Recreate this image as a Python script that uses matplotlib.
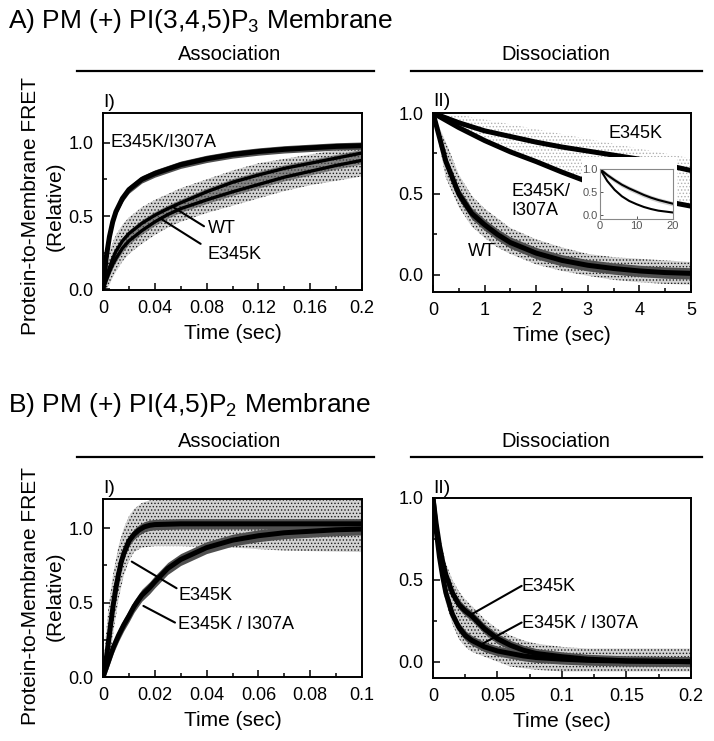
import matplotlib
matplotlib.use('Agg')
import matplotlib.pyplot as plt
from matplotlib.ticker import FixedLocator

plt.rcParams['font.family'] = ['Liberation Sans', 'DejaVu Sans']
plt.rcParams['mathtext.fontset'] = 'custom'
plt.rcParams['mathtext.rm'] = 'Liberation Sans'
plt.rcParams['mathtext.it'] = 'Liberation Sans:italic'
plt.rcParams['mathtext.bf'] = 'Liberation Sans:bold'
plt.rcParams['hatch.linewidth'] = 0.6

# ---------------- data ----------------
# A-I association, PI(3,4,5)P3
tA1 = [0, .0025, .005, .0075, .01, .015, .02, .03, .04, .05, .06, .08, .10, .12, .14, .16, .18, .20]
a1_mut2 = [0, .22, .36, .46, .53, .62, .68, .75, .79, .82, .85, .89, .92, .94, .955, .965, .975, .98]
a1_wt = [0, .08, .15, .21, .26, .33, .38, .45, .505, .55, .59, .665, .73, .78, .825, .86, .895, .93]
a1_e345k = [0, .06, .12, .17, .21, .28, .33, .40, .46, .51, .55, .61, .665, .715, .765, .805, .845, .88]
a1_cloud_lo = [0, 0, .03, .08, .12, .19, .24, .31, .37, .42, .46, .52, .57, .62, .67, .71, .74, .77]
a1_cloud_hi = [0, .18, .26, .32, .37, .44, .49, .56, .61, .65, .69, .75, .81, .86, .89, .92, .95, .99]

# A-II dissociation, PI(3,4,5)P3
tA2 = [0, .25, .5, .75, 1, 1.25, 1.5, 2, 2.5, 3, 3.5, 4, 4.5, 5]
a2_wt = [1.0, .70, .50, .38, .31, .25, .20, .135, .09, .06, .04, .025, .015, .01]
a2_wt_lo = [1.0, .60, .42, .30, .23, .17, .13, .065, .025, -.005, -.03, -.045, -.055, -.06]
a2_wt_hi = [1.0, .82, .62, .49, .41, .35, .29, .22, .17, .13, .11, .10, .09, .08]
tA2b = [0, .5, 1, 1.5, 2, 2.5, 3, 3.5, 4, 4.5, 5]
a2_e345k = [1.0, .94, .89, .855, .82, .79, .765, .74, .715, .68, .645]
a2_mut2 = [1.0, .91, .83, .76, .70, .635, .575, .53, .49, .455, .425]
a2_sparse_hi = [1.0, .99, .96, .93, .90, .87, .84, .81, .78, .75, .72]

# A-II inset (0-20 s)
tIn = [0, 2, 4, 6, 8, 10, 12, 14, 16, 18, 20]
in_e345k = [1.0, .87, .76, .66, .58, .51, .44, .38, .33, .29, .25]
in_mut2 = [1.0, .74, .55, .41, .31, .24, .18, .135, .10, .08, .06]

# B-I association, PI(4,5)P2
tB1a = [0, .001, .002, .003, .004, .005, .006, .007, .008, .010, .012, .014, .016, .018, .02, .03, .05, .1]
b1_e345k = [0, .09, .22, .36, .49, .60, .69, .77, .83, .915, .96, .99, 1.01, 1.02, 1.025, 1.03, 1.03, 1.03]
tB1b = [0, .002, .004, .006, .008, .010, .012, .015, .018, .02, .025, .03, .035, .04, .05, .06, .07, .08, .09, .1]
b1_mut2 = [0, .10, .20, .28, .35, .41, .475, .55, .60, .64, .73, .79, .83, .87, .92, .95, .97, .98, .99, .995]
tB1c = [0, .002, .004, .006, .008, .010, .012, .015, .02, .03, .05, .07, .1]
b1_cloud_lo = [0, .05, .30, .52, .68, .78, .84, .87, .88, .88, .87, .85, .84]
b1_cloud_hi = [.05, .45, .70, .88, 1.0, 1.08, 1.13, 1.17, 1.2, 1.2, 1.2, 1.2, 1.2]

# B-II dissociation, PI(4,5)P2
tB2 = [0, .0025, .005, .0075, .01, .015, .02, .025, .03, .04, .05, .06, .07, .08, .1, .12, .15, .2]
b2_e345k = [1.0, .84, .71, .61, .53, .42, .35, .31, .28, .20, .14, .10, .07, .05, .03, .015, .005, 0]
b2_mut2 = [1.0, .80, .64, .52, .42, .29, .21, .16, .13, .09, .065, .05, .035, .025, .015, .008, .003, 0]
b2_cloud_lo = [1.0, .75, .58, .46, .36, .23, .14, .09, .06, .03, .0, -.03, -.04, -.05, -.06, -.06, -.06, -.06]
b2_cloud_hi = [1.0, .90, .78, .68, .60, .50, .43, .38, .34, .26, .20, .16, .13, .11, .09, .08, .08, .08]

# tick labels
xt_a1 = [0, .04, .08, .12, .16, .2]
xl_a1 = ['0', '0.04', '0.08', '0.12', '0.16', '0.2']
xt_a2 = [0, 1, 2, 3, 4, 5]
xl_a2 = ['0', '1', '2', '3', '4', '5']
xt_b1 = [0, .02, .04, .06, .08, .1]
xl_b1 = ['0', '0.02', '0.04', '0.06', '0.08', '0.1']
xt_b2 = [0, .05, .1, .15, .2]
xl_b2 = ['0', '0.05', '0.1', '0.15', '0.2']
yt = [0, .5, 1.0]
yl = ['0.0', '0.5', '1.0']

# ---------------- style ----------------
W, H = 714, 741
fig = plt.figure(figsize=(W / 100, H / 100), dpi=100)

def px(x0, y0, x1, y1):
    return [x0 / W, 1 - y1 / H, (x1 - x0) / W, (y1 - y0) / H]

DENSE = '#505050'
LW_FIT = 3.6

def cloud(ax, t, lo, hi, face='#d2d2d2', color='#1e1e1e', z=1):
    ax.fill_between(t, lo, hi, facecolor=face, edgecolor=color, hatch='.....', lw=0, zorder=z)

def style(ax, xlim, ylim, xt, xl, xminor):
    ax.set_xlim(*xlim)
    ax.set_ylim(*ylim)
    ax.set_xticks(xt)
    ax.set_xticklabels(xl)
    ax.set_yticks(yt)
    ax.set_yticklabels(yl)
    ax.xaxis.set_minor_locator(FixedLocator(xminor))
    ax.yaxis.set_minor_locator(FixedLocator([.25, .75]))
    ax.tick_params(which='both', direction='in', top=False, right=False,
                   labelsize=13, width=1.1, colors='black')
    ax.tick_params(which='major', length=5, pad=7)
    ax.tick_params(which='minor', length=3)
    for s in ax.spines.values():
        s.set_linewidth(1.4)
    ax.set_xlabel('Time (sec)', fontsize=15, labelpad=5)

def band(ax, t, y, w, color, z=1.5):
    ax.fill_between(t, [v - w for v in y], [v + w for v in y], color=color, lw=0, zorder=z)

def note(ax, xy, xytext):
    ax.annotate('', xy=xy, xytext=xytext,
                arrowprops=dict(arrowstyle='-', lw=1.5, color='black', shrinkA=0, shrinkB=0), zorder=5)

# ---- A-I ----
ax1 = fig.add_axes(px(103, 113, 362, 290))
cloud(ax1, tA1, a1_cloud_lo, a1_cloud_hi)
ax1.fill_between(tA1, [v - .025 for v in a1_e345k], [v + .025 for v in a1_wt], color=DENSE, lw=0, zorder=1.5, alpha=0.6)
band(ax1, tA1, a1_mut2, .025, DENSE)
ax1.plot(tA1, a1_mut2, color='black', lw=LW_FIT, zorder=3)
ax1.plot(tA1, a1_wt, color='black', lw=2.4, zorder=3)
ax1.plot(tA1, a1_e345k, color='black', lw=2.4, zorder=3)
style(ax1, (0, .2), (-.005, 1.203), xt_a1, xl_a1, [.02, .06, .10, .14, .18])
ax1.text(.0055, 1.0, 'E345K/I307A', fontsize=13, va='center', ha='left', zorder=6)
ax1.text(.081, .416, 'WT', fontsize=13, va='center', ha='left', zorder=6)
ax1.text(.081, .24, 'E345K', fontsize=13, va='center', ha='left', zorder=6)
note(ax1, (.0543, .56), (.078, .43))
note(ax1, (.044, .485), (.0754, .31))

# ---- A-II ----
ax2 = fig.add_axes(px(433, 113, 691, 292))
cloud(ax2, tA2b, a2_mut2, a2_sparse_hi, face='white', color='#b0b0b0')
cloud(ax2, tA2, a2_wt_lo, a2_wt_hi, z=1.2)
band(ax2, tA2, a2_wt, .035, DENSE)
ax2.plot(tA2, a2_wt, color='black', lw=LW_FIT, zorder=3)
ax2.plot(tA2b, a2_e345k, color='black', lw=LW_FIT, zorder=3)
ax2.plot(tA2b, a2_mut2, color='black', lw=LW_FIT, zorder=3)
style(ax2, (0, 5), (-.105, 1.0), xt_a2, xl_a2, [.5, 1.5, 2.5, 3.5, 4.5])
ax2.text(3.40, .875, 'E345K', fontsize=13, va='center', ha='left', zorder=6)
ax2.text(1.525, .457, 'E345K/\nI307A', fontsize=13, va='center', ha='left', linespacing=1.1, zorder=6)
ax2.text(.684, .146, 'WT', fontsize=13, va='center', ha='left', zorder=6)

# white area behind inset
bg = fig.add_axes(px(582, 157, 677, 232))
bg.set_facecolor('white')
bg.set_xticks([])
bg.set_yticks([])
for s in bg.spines.values():
    s.set_visible(False)

axi = fig.add_axes(px(600, 169, 673, 219))
axi.fill_between(tIn, [v - .05 for v in in_e345k], [v + .05 for v in in_e345k], color='#cfcfcf', lw=0)
axi.plot(tIn, in_e345k, color='black', lw=1.5)
axi.plot(tIn, in_mut2, color='black', lw=1.5)
axi.set_xlim(0, 20)
axi.set_ylim(-.08, 1.0)
axi.set_xticks([0, 10, 20])
axi.set_xticklabels(['0', '10', '20'])
axi.set_yticks(yt)
axi.set_yticklabels(yl)
axi.tick_params(direction='in', length=2.5, width=0.7, labelsize=8, pad=1.5,
                colors='#555555', top=False, right=False)
for s in axi.spines.values():
    s.set_linewidth(0.8)
    s.set_edgecolor('#888888')

# ---- B-I ----
ax3 = fig.add_axes(px(103, 499, 362, 677))
cloud(ax3, tB1c, b1_cloud_lo, b1_cloud_hi)
band(ax3, tB1b, b1_mut2, .04, DENSE)
band(ax3, tB1a, b1_e345k, .035, DENSE)
ax3.plot(tB1a, b1_e345k, color='black', lw=LW_FIT, zorder=3)
ax3.plot(tB1b, b1_mut2, color='black', lw=LW_FIT, zorder=3)
style(ax3, (0, .1), (0, 1.197), xt_b1, xl_b1, [.01, .03, .05, .07, .09])
ax3.text(.0291, .55, 'E345K', fontsize=13, va='center', ha='left', zorder=6)
ax3.text(.0291, .355, 'E345K / I307A', fontsize=13, va='center', ha='left', zorder=6)
note(ax3, (.0111, .776), (.0284, .597))
note(ax3, (.0156, .478), (.0278, .366))

# ---- B-II ----
ax4 = fig.add_axes(px(433, 498, 691, 678))
cloud(ax4, tB2, b2_cloud_lo, b2_cloud_hi)
band(ax4, tB2, b2_e345k, .03, DENSE)
band(ax4, tB2, b2_mut2, .03, DENSE)
ax4.plot(tB2, b2_e345k, color='black', lw=LW_FIT, zorder=3)
ax4.plot(tB2, b2_mut2, color='black', lw=LW_FIT, zorder=3)
style(ax4, (0, .2), (-.1, 1.0), xt_b2, xl_b2, [.025, .075, .125, .175])
ax4.text(.0687, .459, 'E345K', fontsize=13, va='center', ha='left', zorder=6)
ax4.text(.0687, .235, 'E345K / I307A', fontsize=13, va='center', ha='left', zorder=6)
note(ax4, (.0282, .282), (.0687, .463))
note(ax4, (.038, .108), (.0687, .239))

# ---- y labels ----
for yc in (206, 596):
    fig.text(43 / W, 1 - yc / H, 'Protein-to-Membrane FRET\n(Relative)', rotation=90,
             ha='center', va='center', fontsize=15, linespacing=1.35)

# ---- panel labels ----
for (x, y, s) in [(103, 107, 'I)'), (433, 106, 'II)'), (103, 493, 'I)'), (433, 493, 'II)')]:
    fig.text(x / W, 1 - y / H, s, fontsize=14, ha='left', va='baseline')

# ---- section titles and headers ----
fig.text(8 / W, 1 - 28 / H, 'A) PM (+) PI(3,4,5)P$_3$ Membrane', fontsize=19, ha='left', va='baseline')
fig.text(8 / W, 1 - 412 / H, 'B) PM (+) PI(4,5)P$_2$ Membrane', fontsize=19, ha='left', va='baseline')
for (yb, yl_) in [(60, 71), (447, 457)]:
    fig.text(230 / W, 1 - yb / H, 'Association', fontsize=14.5, ha='center', va='baseline')
    fig.text(556 / W, 1 - yb / H, 'Dissociation', fontsize=14.5, ha='center', va='baseline')
    fig.add_artist(plt.Line2D([77 / W, 374 / W], [1 - yl_ / H, 1 - yl_ / H], color='black', lw=1.6))
    fig.add_artist(plt.Line2D([411 / W, 702 / W], [1 - yl_ / H, 1 - yl_ / H], color='black', lw=1.6))

fig.savefig('out.png', dpi=100)
